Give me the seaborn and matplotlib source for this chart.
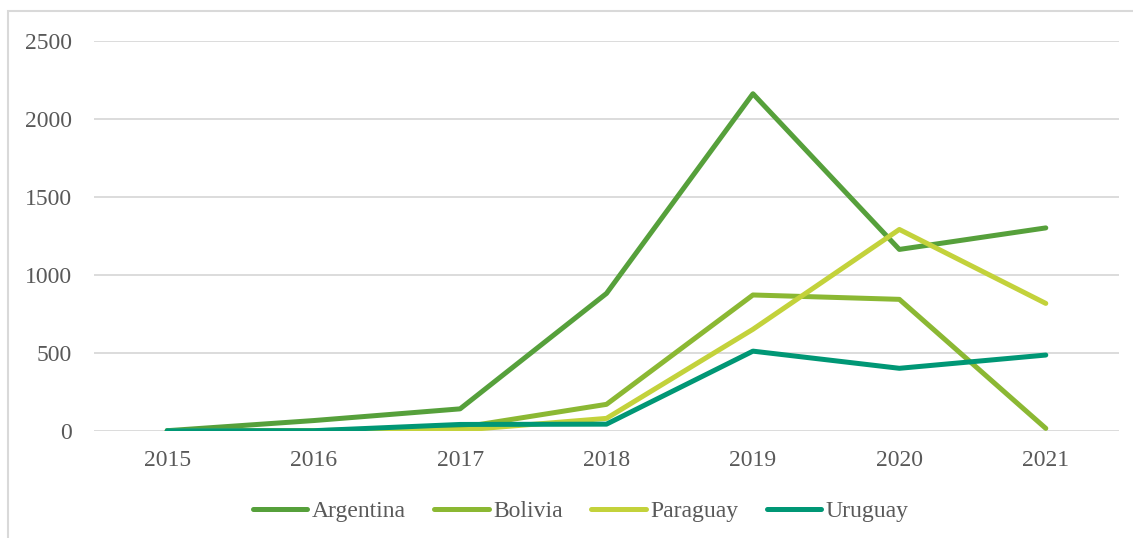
import pandas as pd
import matplotlib.pyplot as plt
import matplotlib.patches as mpatches
import seaborn as sns

years = ['2015', '2016', '2017', '2018', '2019', '2020', '2021']
countries = ['Argentina', 'Bolivia', 'Paraguay', 'Uruguay']
argentina = [0, 65, 140, 880, 2160, 1162, 1300]
bolivia = [0, 0, 20, 169, 870, 842, 15]
paraguay = [0, 0, 3, 79, 650, 1290, 816]
uruguay = [0, 0, 40, 42, 510, 400, 485]
colors = ['#56A03B', '#8BB833', '#C3D23B', '#009775']


def main():
    sns.set_style('white')
    plt.rcParams['font.family'] = ['Liberation Serif', 'DejaVu Serif']
    text_color = '#595959'

    df = pd.DataFrame({
        'Year': years * 4,
        'Value': argentina + bolivia + paraguay + uruguay,
        'Country': [c for c in countries for _ in years],
    })

    fig = plt.figure(figsize=(11.33, 5.38), dpi=100)
    ax = fig.add_axes([94 / 1133, 1 - 430.7 / 538, 1025 / 1133, 390 / 538])
    sns.lineplot(data=df, x='Year', y='Value', hue='Country', palette=colors,
                 linewidth=3.6, ax=ax, sort=False, legend=True)
    for line in ax.get_lines():
        line.set_solid_capstyle('round')
        line.set_solid_joinstyle('round')

    ax.set_xlim(-0.5, 6.5)
    ax.set_ylim(0, 2500)
    ax.set_yticks([0, 500, 1000, 1500, 2000, 2500])
    ax.yaxis.grid(True, color='#d9d9d9', linewidth=1.3)
    ax.set_axisbelow(True)
    for s in ax.spines.values():
        s.set_visible(False)
    ax.set_xlabel('')
    ax.set_ylabel('')
    ax.tick_params(axis='y', length=0, pad=16, labelsize=17, labelcolor=text_color)
    ax.tick_params(axis='x', length=0, pad=14, labelsize=17, labelcolor=text_color)

    handles, labels = ax.get_legend_handles_labels()
    ax.get_legend().remove()
    for h in handles:
        h.set_solid_capstyle('round')
    leg = fig.legend(handles, labels, loc='center', bbox_to_anchor=(581 / 1133, 1 - 511 / 538),
                     ncol=4, frameon=False, fontsize=17, handlelength=2.3,
                     handletextpad=0.2, columnspacing=1.2)
    for t in leg.get_texts():
        t.set_color(text_color)

    # light frame around the chart, cut at right and bottom like the source image
    border = mpatches.Rectangle((8 / 1133, -0.2), 1.2, 1.2 - 11 / 538,
                                transform=fig.transFigure, fill=False,
                                edgecolor='#d9d9d9', linewidth=1.5)
    fig.patches.append(border)

    plt.savefig('out.png', dpi=100)


if __name__ == '__main__':
    main()
